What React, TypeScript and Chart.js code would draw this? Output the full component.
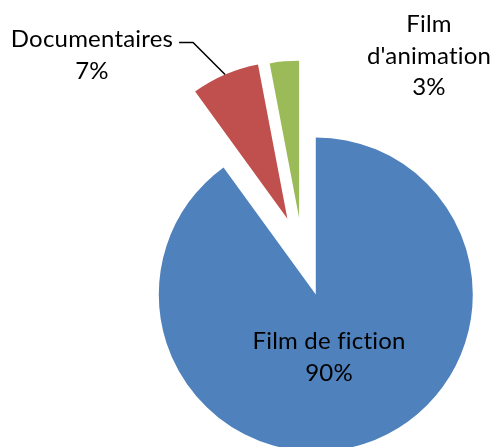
import React, { useEffect, useRef } from "react";
import { Chart, registerables } from "chart.js";

Chart.register(...registerables);

// ---- data ----
const categories = ["Film de fiction", "Documentaires", "Film d'animation"];
const shares = [90, 7, 3];
const labelLines = [["Film de fiction"], ["Documentaires"], ["Film", "d'animation"]];

// ---- style ----
const colors = ["#4F81BD", "#C0504D", "#9BBB59"];
const explode = [43, 38, 36]; // px each slice is pulled out along its bisector
const FONT = "24px Lato, 'Open Sans', sans-serif";
const LINE_H = 31.5;
// first-baseline position of each label, relative to the pie centre
const labelAnchor = [
  [26.5, 95.5],
  [-210.5, -206.5],
  [126.5, -221.5],
];

const explodePlugin = {
  id: "explodeSlices",
  beforeDatasetDraw(chart: any, args: any) {
    const ctx = chart.ctx;
    args.meta.data.forEach((arc: any, i: number) => {
      const mid = (arc.startAngle + arc.endAngle) / 2;
      const d = explode[i] || 0;
      ctx.save();
      ctx.translate(Math.cos(mid) * d, Math.sin(mid) * d);
      arc.draw(ctx);
      ctx.restore();
    });
    return false;
  },
};

const labelPlugin = {
  id: "sliceLabels",
  afterDatasetsDraw(chart: any) {
    const ctx = chart.ctx;
    const meta = chart.getDatasetMeta(0);
    const total = shares.reduce((a, b) => a + b, 0);
    ctx.save();
    ctx.font = FONT;
    try {
      (ctx as any).letterSpacing = "0.2px";
    } catch (e) {}
    ctx.fillStyle = "#000";
    ctx.textAlign = "center";
    ctx.textBaseline = "alphabetic";
    meta.data.forEach((arc: any, i: number) => {
      const lines = [...labelLines[i], Math.round((shares[i] / total) * 100) + "%"];
      const x = arc.x + labelAnchor[i][0];
      const y0 = arc.y + labelAnchor[i][1];
      lines.forEach((t, k) => ctx.fillText(t, x, y0 + k * LINE_H));
    });
    // leader line for the Documentaires label
    const arc = meta.data[1];
    const mid = (arc.startAngle + arc.endAngle) / 2;
    const cx = arc.x + Math.cos(mid) * explode[1];
    const cy = arc.y + Math.sin(mid) * explode[1];
    const ex = cx + Math.cos(mid) * arc.outerRadius;
    const ey = cy + Math.sin(mid) * arc.outerRadius;
    const kx = ex - 32;
    const ky = ey - 32;
    ctx.strokeStyle = "#000";
    ctx.lineWidth = 1.5;
    ctx.beginPath();
    ctx.moveTo(kx - 14, ky);
    ctx.lineTo(kx, ky);
    ctx.lineTo(ex, ey);
    ctx.stroke();
    ctx.restore();
  },
};

export default function App() {
  const ref = useRef<HTMLCanvasElement | null>(null);
  useEffect(() => {
    if (!ref.current) return;
    const chart = new Chart(ref.current, {
      type: "pie",
      data: {
        labels: categories,
        datasets: [
          {
            data: shares,
            backgroundColor: colors,
            borderWidth: 0,
            clip: false as any,
          },
        ],
      },
      options: {
        responsive: false,
        animation: false,
        radius: 157,
        layout: { padding: { left: 106, top: 60, right: 0, bottom: 0 } },
        plugins: {
          legend: { display: false },
          tooltip: { enabled: false },
        },
      } as any,
      plugins: [explodePlugin, labelPlugin],
    });
    return () => chart.destroy();
  }, []);
  return (
    <div style={{ position: "absolute", left: 0, top: 0, width: 499, height: 447, background: "#fff" }}>
      <canvas ref={ref} width={499} height={447} style={{ display: "block", width: 499, height: 447 }} />
    </div>
  );
}
